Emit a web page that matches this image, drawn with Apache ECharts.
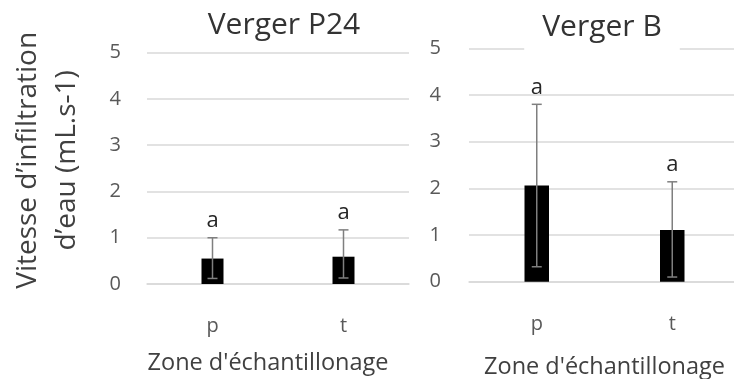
<!DOCTYPE html>
<html><head><meta charset="utf-8">
<script src="https://cdn.jsdelivr.net/npm/echarts@6/dist/echarts.min.js"></script>
<style>html,body{margin:0;padding:0;background:#fff}#c{width:734px;height:379px}</style>
</head><body><div id="c"></div>
<script>
// ---- data ----
const categories = ['p', 't'];
const panelTitles = ['Verger P24', 'Verger B'];
const meansP24 = [0.55, 0.59];
const lowP24 = [0.12, 0.13];
const highP24 = [1.00, 1.17];
const lettersP24 = ['a', 'a'];
const meansB = [2.06, 1.11];
const lowB = [0.32, 0.10];
const highB = [3.80, 2.14];
const lettersB = ['a', 'a'];
const yMin = 0, yMax = 5, yStep = 1;
const xName = "Zone d'échantillonage";
const yName = "Vitesse d’infiltration\nd’eau (mL.s-1)";

const FONT = 'Open Sans';
const GRID_COLOR = '#d9d9d9';
const ERR_COLOR = '#7f7f7f';

function errRender(letters) {
  return function (params, api) {
    const i = params.dataIndex;
    const x = api.coord([api.value(0), 0])[0];
    const yl = api.coord([api.value(0), api.value(1)])[1];
    const yh = api.coord([api.value(0), api.value(2)])[1];
    const cap = 5;
    const st = { stroke: ERR_COLOR, lineWidth: 1.5 };
    return {
      type: 'group', children: [
        { type: 'line', shape: { x1: x, y1: yl, x2: x, y2: yh }, style: st },
        { type: 'line', shape: { x1: x - cap, y1: yh, x2: x + cap, y2: yh }, style: st },
        { type: 'line', shape: { x1: x - cap, y1: yl, x2: x + cap, y2: yl }, style: st },
        { type: 'text', x: x, y: yh - 6, style: { text: letters[i], fill: '#262626', font: '22px "' + FONT + '"', align: 'center', verticalAlign: 'bottom' } }
      ]
    };
  };
}

function yAxisCfg(gridIndex, withName, margin) {
  const c = {
    type: 'value', gridIndex, min: yMin, max: yMax, interval: yStep,
    axisLine: { show: false }, axisTick: { show: false },
    axisLabel: { color: '#595959', fontSize: 20, fontFamily: FONT, margin },
    splitLine: { lineStyle: { color: GRID_COLOR, width: 1.5 } }
  };
  if (withName) {
    Object.assign(c, {
      name: yName, nameLocation: 'middle', nameGap: 60, nameRotate: 90,
      nameTextStyle: { color: '#404040', fontSize: 28, lineHeight: 39, fontFamily: FONT, padding: [0, 0, 0, 16] }
    });
  }
  return c;
}

function xAxisCfg(gridIndex, gap, pad, labMargin) {
  return {
    type: 'category', gridIndex, data: categories,
    axisLine: { show: true, lineStyle: { color: GRID_COLOR, width: 1.5 } },
    axisTick: { show: false },
    axisLabel: { color: '#595959', fontSize: 20, fontFamily: FONT, margin: labMargin },
    name: xName, nameLocation: 'middle', nameGap: gap,
    nameTextStyle: { color: '#404040', fontSize: 23.5, fontFamily: FONT, padding: pad }
  };
}

const chart = echarts.init(document.getElementById('c'), null, { renderer: 'canvas' });
chart.setOption({
  animation: false,
  backgroundColor: '#fff',
  title: [
    { text: panelTitles[0], left: 279, top: 5, textAlign: 'center',
      textStyle: { fontSize: 30, fontWeight: 'normal', color: '#333', fontFamily: FONT } },
    { text: panelTitles[1], left: 584, top: 8, textAlign: 'center', backgroundColor: '#fff', padding: [4, 18, 8, 18],
      textStyle: { fontSize: 30, fontWeight: 'normal', color: '#333', fontFamily: FONT } }
  ],
  grid: [
    { left: 147, top: 52.7, width: 262, height: 231.3, containLabel: false, outerBoundsMode: 'none' },
    { left: 469, top: 48.3, width: 271, height: 233.4, containLabel: false, outerBoundsMode: 'none' }
  ],
  xAxis: [xAxisCfg(0, 67, [0, 20, 0, 0], 32), xAxisCfg(1, 73.5, [0, 0, 0, 0], 33)],
  yAxis: [yAxisCfg(0, true, 26), yAxisCfg(1, false, 28)],
  series: [
    { type: 'bar', xAxisIndex: 0, yAxisIndex: 0, data: meansP24, barWidth: 22, itemStyle: { color: '#000' }, z: 2 },
    { type: 'custom', xAxisIndex: 0, yAxisIndex: 0, z: 3, renderItem: errRender(lettersP24),
      data: categories.map((c, i) => [i, lowP24[i], highP24[i]]) },
    { type: 'bar', xAxisIndex: 1, yAxisIndex: 1, data: meansB, barWidth: 24.5, itemStyle: { color: '#000' }, z: 2 },
    { type: 'custom', xAxisIndex: 1, yAxisIndex: 1, z: 3, renderItem: errRender(lettersB),
      data: categories.map((c, i) => [i, lowB[i], highB[i]]) }
  ]
});
</script></body></html>
